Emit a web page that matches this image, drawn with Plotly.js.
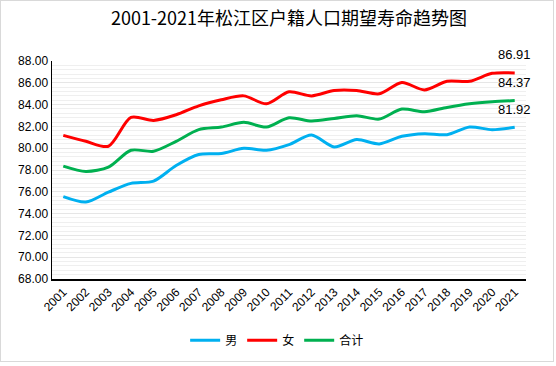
<!DOCTYPE html>
<html>
<head>
<meta charset="utf-8">
<script src="https://cdn.plot.ly/plotly-3.0.1.min.js"></script>
<style>
html,body{margin:0;padding:0;background:#fff;}
#wrap{position:relative;width:556px;height:366px;}
#chart{width:556px;height:366px;}
#frame{position:absolute;left:0;top:0;width:552px;height:360px;border:1px solid #d9d9d9;pointer-events:none;}
</style>
</head>
<body>
<div id="wrap"><div id="chart"></div><div id="frame"></div></div>
<script>
const years = ['2001','2002','2003','2004','2005','2006','2007','2008','2009','2010','2011','2012','2013','2014','2015','2016','2017','2018','2019','2020','2021'];
const male   = [75.55,75.06,75.97,76.77,76.98,78.41,79.42,79.51,79.99,79.81,80.33,81.21,80.12,80.79,80.39,81.09,81.33,81.24,81.94,81.70,81.92];
const female = [81.18,80.63,80.18,82.82,82.55,83.07,83.89,84.44,84.80,84.07,85.17,84.80,85.29,85.29,84.99,86.02,85.35,86.14,86.14,86.87,86.91];
const total  = [78.35,77.86,78.26,79.81,79.72,80.63,81.70,81.94,82.37,81.94,82.79,82.49,82.73,82.98,82.67,83.59,83.34,83.74,84.07,84.26,84.37];
const seriesNames = ['男','女','合计'];
const colors = ['#00B0F0','#FF0000','#00B050'];
const allSeries = [male, female, total];

const traces = allSeries.map((arr, k) => ({
  x: years, y: arr, name: seriesNames[k], type: 'scatter', mode: 'lines',
  line: {color: colors[k], width: 3, shape: 'spline', smoothing: 0.8},
  hoverinfo: 'skip'
}));

const lastIdx = years.length - 1;
const annotations = allSeries.map(arr => ({
  x: lastIdx, y: arr[lastIdx], xref: 'x', yref: 'y',
  text: arr[lastIdx].toFixed(2), showarrow: false, yshift: 18, xshift: 0,
  font: {family: 'Liberation Sans, Arial, sans-serif', size: 13, color: '#000'}
}));

const layout = {
  width: 556, height: 366,
  margin: {l: 52, r: 30, t: 61, b: 86},
  paper_bgcolor: '#fff', plot_bgcolor: '#fff',
  title: {text: '2001-2021年松江区户籍人口期望寿命趋势图', x: 0.5, xref: 'paper', y: 0.95, yanchor: 'middle',
          font: {family: 'Noto Sans CJK SC, sans-serif', size: 18, color: '#000'}},
  showlegend: true,
  legend: {orientation: 'h', x: 0.475, xanchor: 'center', y: -0.275, yanchor: 'middle',
           font: {family: 'Noto Sans CJK SC, sans-serif', size: 12, color: '#000'},
           itemwidth: 30, tracegroupgap: 0},
  annotations: annotations,
  xaxis: {type: 'category', range: [-0.5, 20.5], showline: true, linecolor: '#000', linewidth: 1.5,
          tickangle: -45, ticks: '', showgrid: false, zeroline: false,
          tickfont: {family: 'Liberation Sans, Arial, sans-serif', size: 12, color: '#000'}},
  yaxis: {range: [68, 88], dtick: 2, tick0: 68, tickformat: '.2f', showline: true, linecolor: '#000', linewidth: 1.5,
          ticks: '', showgrid: true, gridcolor: '#e6e6e6', gridwidth: 1, zeroline: false,
          minor: {dtick: 0.4, showgrid: true, gridcolor: '#efefef', gridwidth: 1},
          tickfont: {family: 'Liberation Sans, Arial, sans-serif', size: 12, color: '#000'}}
};

Plotly.newPlot('chart', traces, layout, {staticPlot: true, displayModeBar: false});
</script>
</body>
</html>
